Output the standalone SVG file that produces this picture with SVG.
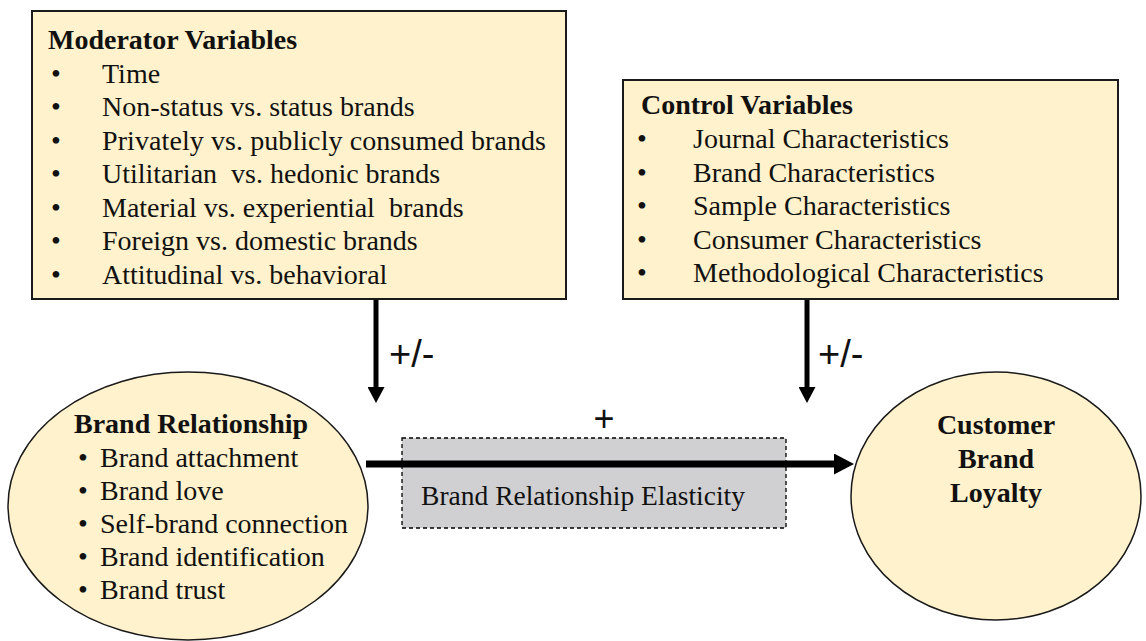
<svg xmlns="http://www.w3.org/2000/svg" width="1146" height="641" viewBox="0 0 1146 641">
<style>
.box{fill:#fff2cc;stroke:#1a1a1a;stroke-width:2}
.ell{fill:#fff2cc;stroke:#1a1a1a;stroke-width:1.5}
.ln{stroke:#000;fill:none}
</style>
<defs>
<marker id="ah" markerWidth="16" markerHeight="17" refX="0" refY="8.5" orient="auto" markerUnits="userSpaceOnUse">
<path d="M0,0 L16,8.5 L0,17 Z" fill="#000"/>
</marker>
<marker id="ah2" markerWidth="20" markerHeight="21" refX="0" refY="10.5" orient="auto" markerUnits="userSpaceOnUse">
<path d="M0,0 L20,10.5 L0,21 Z" fill="#000"/>
</marker>
</defs>
<rect width="1146" height="641" fill="#fff"/>

<g id="moderator" font-family="'Liberation Serif', 'DejaVu Serif', serif" font-size="28" fill="#111">
<rect class="box" x="32" y="11" width="534" height="288"/>
<text font-weight="bold" x="48" y="49">Moderator Variables</text>
<text x="51" y="82.5">•</text><text x="102" y="82.5">Time</text>
<text x="51" y="116">•</text><text x="102" y="116">Non-status vs. status brands</text>
<text x="51" y="149.5">•</text><text x="102" y="149.5" textLength="444" lengthAdjust="spacing">Privately vs. publicly consumed brands</text>
<text x="51" y="183">•</text><text x="102" y="183" xml:space="preserve">Utilitarian  vs. hedonic brands</text>
<text x="51" y="216.5">•</text><text x="102" y="216.5" xml:space="preserve">Material vs. experiential  brands</text>
<text x="51" y="250">•</text><text x="102" y="250">Foreign vs. domestic brands</text>
<text x="51" y="283.5">•</text><text x="102" y="283.5">Attitudinal vs. behavioral</text>
</g>

<g id="control" font-family="'Liberation Serif', 'DejaVu Serif', serif" font-size="28" fill="#111">
<rect class="box" x="623" y="80" width="495" height="219"/>
<text font-weight="bold" x="641" y="114">Control Variables</text>
<text x="637" y="148">•</text><text x="693" y="148">Journal Characteristics</text>
<text x="637" y="181.5">•</text><text x="693" y="181.5">Brand Characteristics</text>
<text x="637" y="215">•</text><text x="693" y="215">Sample Characteristics</text>
<text x="637" y="248.5">•</text><text x="693" y="248.5">Consumer Characteristics</text>
<text x="637" y="282">•</text><text x="693" y="282">Methodological Characteristics</text>
</g>

<g id="brand-relationship" font-family="'Liberation Serif', 'DejaVu Serif', serif" font-size="28" fill="#111">
<ellipse class="ell" cx="188" cy="506" rx="180" ry="134"/>
<text font-weight="bold" x="74" y="433">Brand Relationship</text>
<text x="78" y="467">•</text><text x="100" y="467">Brand attachment</text>
<text x="78" y="500">•</text><text x="100" y="500">Brand love</text>
<text x="78" y="533">•</text><text x="100" y="533">Self-brand connection</text>
<text x="78" y="566">•</text><text x="100" y="566">Brand identification</text>
<text x="78" y="599">•</text><text x="100" y="599">Brand trust</text>
</g>

<g id="elasticity" font-family="'Liberation Serif', 'DejaVu Serif', serif" fill="#111">
<rect x="402" y="438" width="384" height="90" fill="#d0cfd1" stroke="#000" stroke-width="1.3" stroke-dasharray="4,3"/>
<text x="583" y="505" text-anchor="middle" font-size="27.5">Brand Relationship Elasticity</text>
</g>

<g id="loyalty" font-family="'Liberation Serif', 'DejaVu Serif', serif" font-size="28" fill="#111">
<ellipse class="ell" cx="996" cy="496" rx="145" ry="124"/>
<g font-weight="bold" text-anchor="middle">
<text x="996" y="434">Customer</text>
<text x="996" y="468">Brand</text>
<text x="996" y="502">Loyalty</text>
</g>
</g>

<g id="connectors">
<line class="ln" x1="376" y1="300" x2="376" y2="387" stroke-width="5" marker-end="url(#ah)"/>
<line class="ln" x1="807" y1="300" x2="807" y2="387" stroke-width="5" marker-end="url(#ah)"/>
<line class="ln" x1="366" y1="464" x2="834" y2="464" stroke-width="7" marker-end="url(#ah2)"/>
<g font-family="'Liberation Sans', Arial, sans-serif" fill="#111">
<text x="389" y="367" font-size="38">+/-</text>
<text x="818" y="367" font-size="38">+/-</text>
<text x="604" y="431" font-size="36" text-anchor="middle">+</text>
</g>
</g>
</svg>
